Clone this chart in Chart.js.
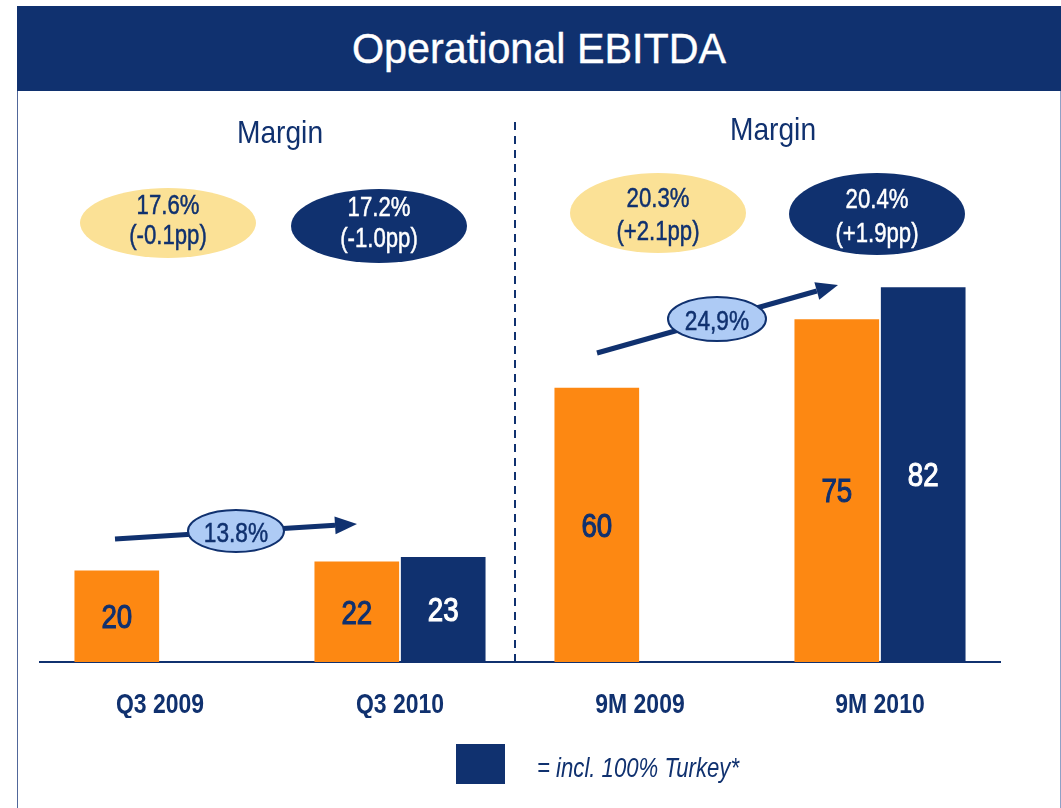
<!DOCTYPE html>
<html>
<head>
<meta charset="utf-8">
<script src="https://cdn.jsdelivr.net/npm/chart.js@4.4.1/dist/chart.umd.min.js"></script>
<style>
  html, body { margin:0; padding:0; background:#fff; }
  body { width:1061px; height:808px; position:relative; overflow:hidden;
         font-family:'Liberation Sans', Arial, sans-serif; }
  #frame { position:absolute; left:17px; top:6px; width:1044px; height:802px;
           border-left:1.5px solid #51679a; border-right:1.5px solid #8fa1c6; box-sizing:border-box; }
  #banner { position:absolute; left:17px; top:6px; width:1044px; height:85px; background:#10316f; }
  #banner span { position:absolute; left:0; width:100%; top:0; color:#fff; font-size:43px; text-align:center;
                 line-height:85px; transform:scaleX(0.96); -webkit-text-stroke:0.4px #fff; }
  .margin { position:absolute; color:#10316f; font-size:32px; line-height:32px; width:200px; text-align:center;
            transform:scaleX(0.88); }
  #legendBox { position:absolute; left:456px; top:744px; width:49px; height:40px; background:#10316f; }
  #legendText { position:absolute; left:537px; top:755px; font-size:27px; line-height:27px; font-style:italic;
                color:#10316f; transform:scaleX(0.82); transform-origin:0 50%; white-space:nowrap; }
  #c { position:absolute; left:0; top:0; }
</style>
</head>
<body>
<div id="frame"></div>
<canvas id="c" width="1061" height="808"></canvas>
<div id="banner"><span>Operational EBITDA</span></div>
<div class="margin" style="left:180px; top:116px;">Margin</div>
<div class="margin" style="left:673px; top:113px;">Margin</div>
<div id="legendBox"></div>
<div id="legendText">= incl. 100% Turkey*</div>
<script>
// ---- data ----
const categories = ['Q3 2009', 'Q3 2010', '9M 2009', '9M 2010'];
const ebitda = [20, 22, 60, 75];
const ebitdaTurkey = [null, 23, null, 82];
const marginLight = [['17.6%', '(-0.1pp)'], ['20.3%', '(+2.1pp)']];
const marginDark = [['17.2%', '(-1.0pp)'], ['20.4%', '(+1.9pp)']];
const growth = ['13.8%', '24,9%'];

const NAVY = '#10316f', ORANGE = '#fd8812', YELLOW = '#fbe196', LIGHTBLUE = '#aecbf5';
const FONT = "'Liberation Sans', Arial, sans-serif";
const NARROW = 0.82;

// draw narrow text with its cap-height centred on (x, cy)
function narrowText(ctx, text, x, cy, size, weight, color, sx, heavy) {
  ctx.save();
  ctx.translate(x, cy + 0.358 * size);
  ctx.scale(sx || NARROW, 1);
  ctx.font = (weight || 'normal') + ' ' + size + 'px ' + FONT;
  ctx.fillStyle = color; ctx.textAlign = 'center'; ctx.textBaseline = 'alphabetic';
  ctx.fillText(text, 0, 0);
  if (heavy) { ctx.lineWidth = heavy; ctx.strokeStyle = color; ctx.strokeText(text, 0, 0); }
  ctx.restore();
}
function ellipse(ctx, cx, cy, rx, ry, fill, stroke, lw) {
  ctx.beginPath();
  ctx.ellipse(cx, cy, rx, ry, 0, 0, Math.PI * 2);
  ctx.fillStyle = fill; ctx.fill();
  if (stroke) { ctx.lineWidth = lw || 1.5; ctx.strokeStyle = stroke; ctx.stroke(); }
}
function arrow(ctx, x1, y1, x2, y2) {
  const a = Math.atan2(y2 - y1, x2 - x1), L = 22, W = 9;
  const bx = x2 - L * Math.cos(a), by = y2 - L * Math.sin(a);
  ctx.beginPath(); ctx.moveTo(x1, y1); ctx.lineTo(bx, by);
  ctx.lineWidth = 5; ctx.strokeStyle = NAVY; ctx.stroke();
  ctx.beginPath(); ctx.moveTo(x2, y2);
  ctx.lineTo(bx + W * Math.sin(a), by - W * Math.cos(a));
  ctx.lineTo(bx - W * Math.sin(a), by + W * Math.cos(a));
  ctx.closePath(); ctx.fillStyle = NAVY; ctx.fill();
}

// condense the x-axis tick labels (Arial Narrow look) while the library draws them
const narrowAxis = {
  id: 'narrowAxis',
  afterLayout(chart) {
    const s = chart.scales.x;
    if (s._narrowed) return;
    s._narrowed = true;
    const orig = s.drawLabels.bind(s);
    s.drawLabels = function (area) {
      const ctx = this.ctx;
      const ft = CanvasRenderingContext2D.prototype.fillText;
      ctx.fillText = function (t, x, y) {
        this.save(); this.translate(x, y); this.scale(NARROW, 1); ft.call(this, t, 0, 0); this.restore();
      };
      try { orig(area); } finally { delete ctx.fillText; }
    };
  }
};

const deco = {
  id: 'deco',
  afterDatasetsDraw(chart) {
    const ctx = chart.ctx, xs = chart.scales.x, area = chart.chartArea;
    ctx.save();
    // value labels in bars
    chart.data.datasets.forEach((ds, di) => {
      const meta = chart.getDatasetMeta(di);
      meta.data.forEach((bar, i) => {
        const v = ds.data[i];
        if (v == null) return;
        narrowText(ctx, String(v), bar.x, (bar.y + bar.base) / 2, 33, 'normal',
                   di === 0 ? NAVY : '#ffffff', 0.84, 1.1);
      });
    });
    // dashed separator
    const sepX = (xs.getPixelForValue(1) + xs.getPixelForValue(2)) / 2 - 5;
    ctx.beginPath(); ctx.setLineDash([8, 6]);
    ctx.moveTo(sepX, 122); ctx.lineTo(sepX, area.bottom);
    ctx.lineWidth = 2; ctx.strokeStyle = NAVY; ctx.stroke(); ctx.setLineDash([]);
    // margin ellipses
    const spec = [
      { ly: 223, lry: 35, lt: [204, 234], dy: 226, dry: 37, dt: [206, 237], lo: 8, dO: -21 },
      { ly: 213, lry: 40, lt: [197, 230], dy: 214, dry: 41, dt: [198, 232], lo: 18, dO: -3 }
    ];
    spec.forEach((p, k) => {
      const lx = xs.getPixelForValue(k * 2) + p.lo;
      const dx = xs.getPixelForValue(k * 2 + 1) + p.dO;
      ellipse(ctx, lx, p.ly, 88, p.lry, YELLOW);
      narrowText(ctx, marginLight[k][0], lx, p.lt[0], 27, 'normal', NAVY, NARROW, 0.5);
      narrowText(ctx, marginLight[k][1], lx, p.lt[1], 27, 'normal', NAVY, NARROW, 0.5);
      ellipse(ctx, dx, p.dy, 88, p.dry, NAVY);
      narrowText(ctx, marginDark[k][0], dx, p.dt[0], 27, 'normal', '#ffffff', NARROW, 0.5);
      narrowText(ctx, marginDark[k][1], dx, p.dt[1], 27, 'normal', '#ffffff', NARROW, 0.5);
    });
    // growth arrows
    const arrows = [
      { x1: 115, y1: 539, x2: 357, y2: 524, cx: 236, cy: 531, rx: 48, ry: 21 },
      { x1: 597, y1: 353, x2: 838, y2: 285, cx: 717, cy: 319, rx: 49, ry: 22 }
    ];
    arrows.forEach((a, k) => {
      arrow(ctx, a.x1, a.y1, a.x2, a.y2);
      ellipse(ctx, a.cx, a.cy, a.rx, a.ry, LIGHTBLUE, NAVY, 2);
      narrowText(ctx, growth[k], a.cx, a.cy + 1, 27, 'normal', NAVY, 0.84, 0.5);
    });
    ctx.restore();
  }
};

new Chart(document.getElementById('c'), {
  type: 'bar',
  data: {
    labels: categories,
    datasets: [
      { label: 'EBITDA', data: ebitda, backgroundColor: ORANGE, categoryPercentage: 0.72, barPercentage: 0.98 },
      { label: 'incl. 100% Turkey', data: ebitdaTurkey, backgroundColor: NAVY, categoryPercentage: 0.72, barPercentage: 0.98 }
    ]
  },
  options: {
    responsive: false, animation: false,
    layout: { padding: { top: 205, left: 40, right: 61, bottom: 90 } },
    plugins: { legend: { display: false }, tooltip: { enabled: false } },
    scales: {
      y: { display: false, min: 0, max: 100 },
      x: {
        grid: { display: false, drawTicks: false },
        border: { display: true, color: NAVY, width: 2 },
        ticks: { color: NAVY, padding: 26, autoSkip: false, maxRotation: 0,
                 font: { family: FONT, size: 28, weight: 'bold' } },
        afterFit: s => { s.height = 56; }
      }
    }
  },
  plugins: [narrowAxis, deco]
});
</script>
</body>
</html>
